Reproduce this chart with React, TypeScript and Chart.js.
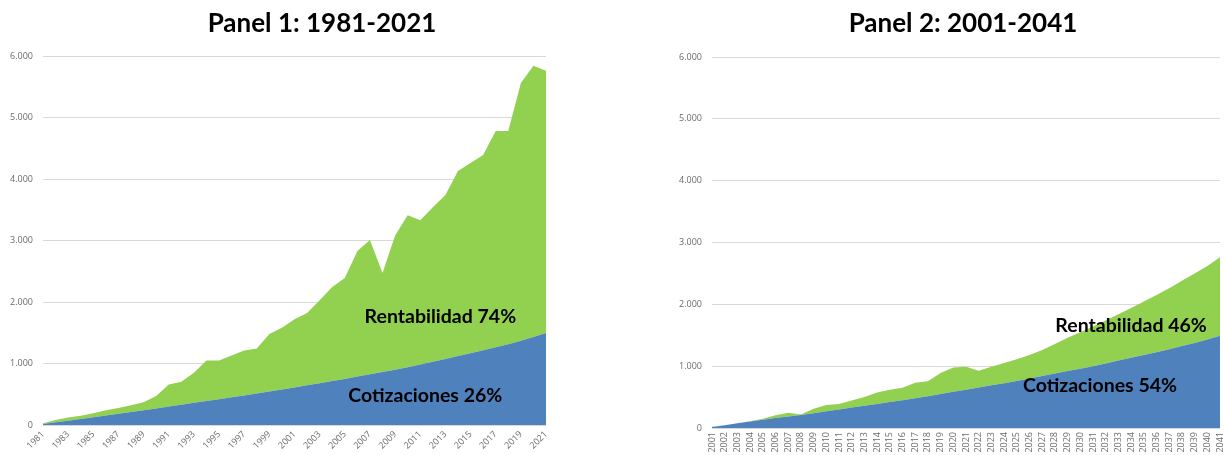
import React, { useEffect, useRef } from "react";
import { Chart, registerables } from "chart.js";
Chart.register(...registerables);

const years1 = ["1981","1982","1983","1984","1985","1986","1987","1988","1989","1990","1991","1992","1993","1994","1995","1996","1997","1998","1999","2000","2001","2002","2003","2004","2005","2006","2007","2008","2009","2010","2011","2012","2013","2014","2015","2016","2017","2018","2019","2020","2021"];
const cotizaciones1 = [15,43,71,99,127,155,183,211,240,270,300,330,360,390,420,450,481,513,545,577,610,645,680,715,750,787,824,861,899,940,985,1030,1075,1120,1168,1216,1265,1315,1370,1430,1495];
const total1 = [27,80,120,150,190,240,275,320,370,470,660,705,850,1050,1050,1130,1210,1245,1480,1580,1720,1820,2030,2245,2390,2830,3010,2470,3080,3410,3330,3540,3740,4130,4260,4390,4780,4780,5560,5840,5760];

const years2 = ["2001","2002","2003","2004","2005","2006","2007","2008","2009","2010","2011","2012","2013","2014","2015","2016","2017","2018","2019","2020","2021","2022","2023","2024","2025","2026","2027","2028","2029","2030","2031","2032","2033","2034","2035","2036","2037","2038","2039","2040","2041"];
const cotizaciones2 = [15,45,75,105,135,160,185,210,240,270,300,330,360,390,420,450,480,515,550,585,620,655,690,725,760,800,840,880,920,960,1000,1045,1090,1135,1180,1225,1275,1325,1375,1430,1490];
const total2 = [20,45,75,110,150,205,245,220,310,370,390,445,500,575,620,650,730,755,890,980,990,925,990,1050,1110,1180,1260,1360,1460,1550,1640,1740,1840,1940,2045,2150,2260,2380,2500,2620,2760];

const yTicks = [0, 1000, 2000, 3000, 4000, 5000, 6000];

const BLUE = "#4F81BD";
const GREEN = "#92D050";
const GRID = "#d9d9d9";
const TICK = "#6b6b6b";

function fmt(v: number): string {
  const s = String(Math.round(v));
  return s.replace(/\B(?=(\d{3})+(?!\d))/g, ".");
}

type Note = { text: string; idx: number; value: number };

const notes1: Note[] = [
  { text: "Rentabilidad 74%", idx: 31.6, value: 1659 },
  { text: "Cotizaciones 26%", idx: 30.4, value: 374 },
];
const notes2: Note[] = [
  { text: "Rentabilidad 46%", idx: 33.0, value: 1558 },
  { text: "Cotizaciones 54%", idx: 30.55, value: 578 },
];

function makeConfig(
  labels: string[],
  cot: number[],
  tot: number[],
  notes: Note[],
  opts: { yWidth: number; xHeight: number; top: number; right: number; rotation: number; every: number }
): any {
  const notePlugin = {
    id: "notes",
    afterDatasetsDraw(chart: any) {
      const ctx = chart.ctx;
      const xs = chart.scales.x;
      const ys = chart.scales.y;
      ctx.save();
      ctx.font = "bold 19.5px Lato";
      ctx.fillStyle = "#000";
      ctx.textAlign = "center";
      ctx.textBaseline = "alphabetic";
      for (const n of notes) {
        const x0 = xs.getPixelForValue(Math.floor(n.idx));
        const x1 = xs.getPixelForValue(Math.floor(n.idx) + 1);
        const x = x0 + (x1 - x0) * (n.idx - Math.floor(n.idx));
        ctx.fillText(n.text, x, ys.getPixelForValue(n.value));
      }
      ctx.restore();
    },
  };
  return {
    type: "line",
    data: {
      labels,
      datasets: [
        {
          label: "Cotizaciones",
          data: cot,
          fill: "origin",
          backgroundColor: BLUE,
          borderWidth: 0,
          pointRadius: 0,
          tension: 0,
        },
        {
          label: "Rentabilidad",
          data: tot,
          fill: "-1",
          backgroundColor: GREEN,
          borderWidth: 0,
          pointRadius: 0,
          tension: 0,
        },
      ],
    },
    options: {
      animation: false,
      responsive: false,
      maintainAspectRatio: false,
      layout: { padding: { top: opts.top, right: opts.right, left: 0, bottom: 0 } },
      plugins: { legend: { display: false }, tooltip: { enabled: false }, title: { display: false } },
      scales: {
        x: {
          offset: false,
          grid: { display: false, drawTicks: false },
          border: { display: false },
          ticks: {
            autoSkip: false,
            minRotation: opts.rotation,
            maxRotation: opts.rotation,
            padding: 4,
            color: TICK,
            font: { family: "Open Sans", size: 9 },
            callback: (_v: any, i: number) => (i % opts.every === 0 ? labels[i] : ""),
          },
          afterFit: (s: any) => {
            s.height = opts.xHeight;
            s.paddingLeft = 0;
            s.paddingRight = 0;
          },
        },
        y: {
          min: 0,
          max: 6000,
          afterBuildTicks: (s: any) => {
            s.ticks = yTicks.map((v) => ({ value: v }));
          },
          grid: { color: GRID, lineWidth: 1, drawTicks: false },
          border: { display: false },
          ticks: {
            padding: 10,
            color: TICK,
            font: { family: "Open Sans", size: 9 },
            callback: (v: any) => fmt(Number(v)),
          },
          afterFit: (s: any) => {
            s.width = opts.yWidth;
            s.paddingTop = 0;
            s.paddingBottom = 0;
          },
        },
      },
    },
    plugins: [notePlugin],
  };
}

function Panel(props: { left: number; width: number; title: string; titleCenter: number; config: any }) {
  const ref = useRef<HTMLCanvasElement | null>(null);
  useEffect(() => {
    if (!ref.current) return;
    const chart = new Chart(ref.current, props.config);
    return () => chart.destroy();
  }, []);
  return (
    <>
      <canvas
        ref={ref}
        width={props.width}
        height={455}
        style={{ position: "absolute", left: props.left, top: 0, width: props.width, height: 455 }}
      />
      <div
        style={{
          position: "absolute",
          left: props.titleCenter - 200,
          width: 400,
          top: 9,
          textAlign: "center",
          fontFamily: "Lato",
          fontWeight: 700,
          fontSize: 26,
          lineHeight: "26px",
          color: "#000",
        }}
      >
        {props.title}
      </div>
    </>
  );
}

export default function App() {
  const cfg1 = makeConfig(years1, cotizaciones1, total1, notes1, {
    yWidth: 43, xHeight: 30, top: 56, right: 54, rotation: 45, every: 2,
  });
  const cfg2 = makeConfig(years2, cotizaciones2, total2, notes2, {
    yWidth: 52, xHeight: 27, top: 57, right: 5, rotation: 90, every: 1,
  });
  return (
    <div style={{ position: "absolute", left: 0, top: 0, width: 1225, height: 455, background: "#fff" }}>
      <Panel left={0} width={600} title="Panel 1: 1981-2021" titleCenter={322} config={cfg1} />
      <Panel left={660} width={565} title="Panel 2: 2001-2041" titleCenter={963} config={cfg2} />
    </div>
  );
}
